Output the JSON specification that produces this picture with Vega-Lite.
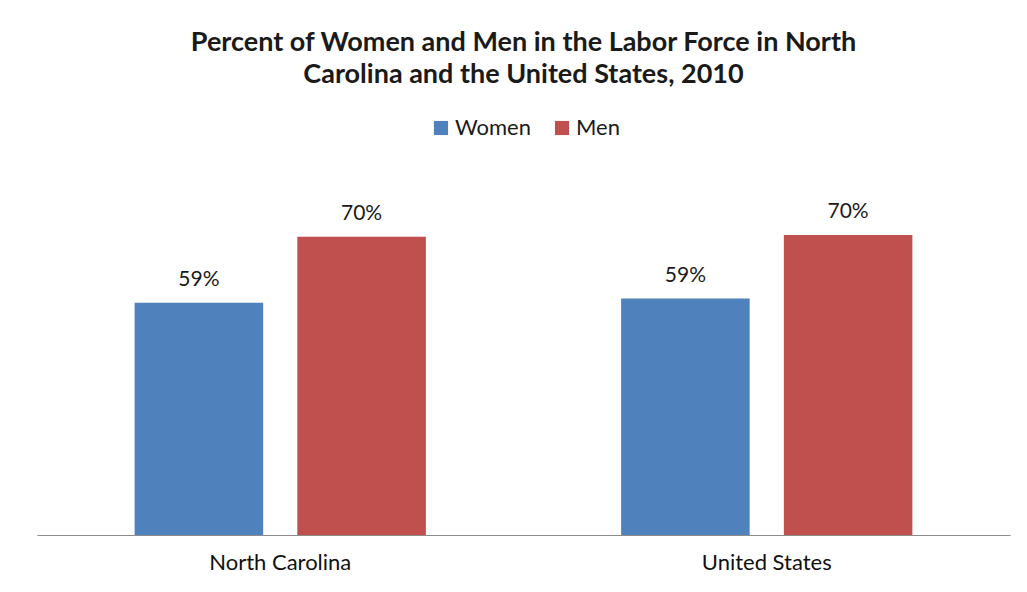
{
  "$schema": "https://vega.github.io/schema/vega-lite/v6.json",
  "width": 973,
  "height": 360,
  "padding": {"left": 37, "top": 29, "right": 17, "bottom": 5},
  "background": "white",
  "title": {
    "text": ["Percent of Women and Men in the Labor Force in North", "Carolina and the United States, 2010"],
    "font": "Lato",
    "fontSize": 27,
    "fontWeight": "bold",
    "lineHeight": 32,
    "color": "#1a1a1a",
    "anchor": "middle",
    "offset": 28
  },
  "data": {
    "values": [
      {"region": "North Carolina", "sex": "Women", "pct": 0.587},
      {"region": "North Carolina", "sex": "Men", "pct": 0.697},
      {"region": "United States", "sex": "Women", "pct": 0.594},
      {"region": "United States", "sex": "Men", "pct": 0.700}
    ]
  },
  "encoding": {
    "x": {
      "field": "region",
      "type": "nominal",
      "scale": {"paddingInner": 0, "paddingOuter": 0},
      "axis": {
        "title": null,
        "labelAngle": 0,
        "labelFont": "Lato",
        "labelFontSize": 22,
        "labelColor": "#111111",
        "labelPadding": 17,
        "ticks": false,
        "domainColor": "#8c8c8c",
        "domainWidth": 1.2
      }
    },
    "xOffset": {
      "field": "sex",
      "type": "nominal",
      "sort": ["Women", "Men"],
      "scale": {"paddingInner": 0.21, "paddingOuter": 0.6}
    },
    "y": {
      "field": "pct",
      "type": "quantitative",
      "scale": {"domain": [0.2, 0.8], "zero": false},
      "axis": null
    }
  },
  "layer": [
    {
      "mark": {"type": "bar", "clip": true},
      "encoding": {
        "color": {
          "field": "sex",
          "type": "nominal",
          "sort": ["Women", "Men"],
          "scale": {"domain": ["Women", "Men"], "range": ["#4F81BD", "#C0504D"]},
          "legend": {
            "title": null,
            "orient": "none",
            "direction": "horizontal",
            "legendX": 393,
            "legendY": -58,
            "symbolType": "square",
            "symbolSize": 200,
            "symbolStrokeWidth": 0,
            "labelFont": "Lato",
            "labelFontSize": 22,
            "labelColor": "#1a1a1a",
            "labelOffset": 3,
            "columnPadding": 20
          }
        }
      }
    },
    {
      "mark": {"type": "text", "baseline": "bottom", "dy": -13, "font": "Lato", "fontSize": 21, "color": "#1a1a1a"},
      "encoding": {
        "text": {"field": "pct", "type": "quantitative", "format": ".0%"}
      }
    }
  ],
  "config": {
    "view": {"stroke": null}
  }
}
